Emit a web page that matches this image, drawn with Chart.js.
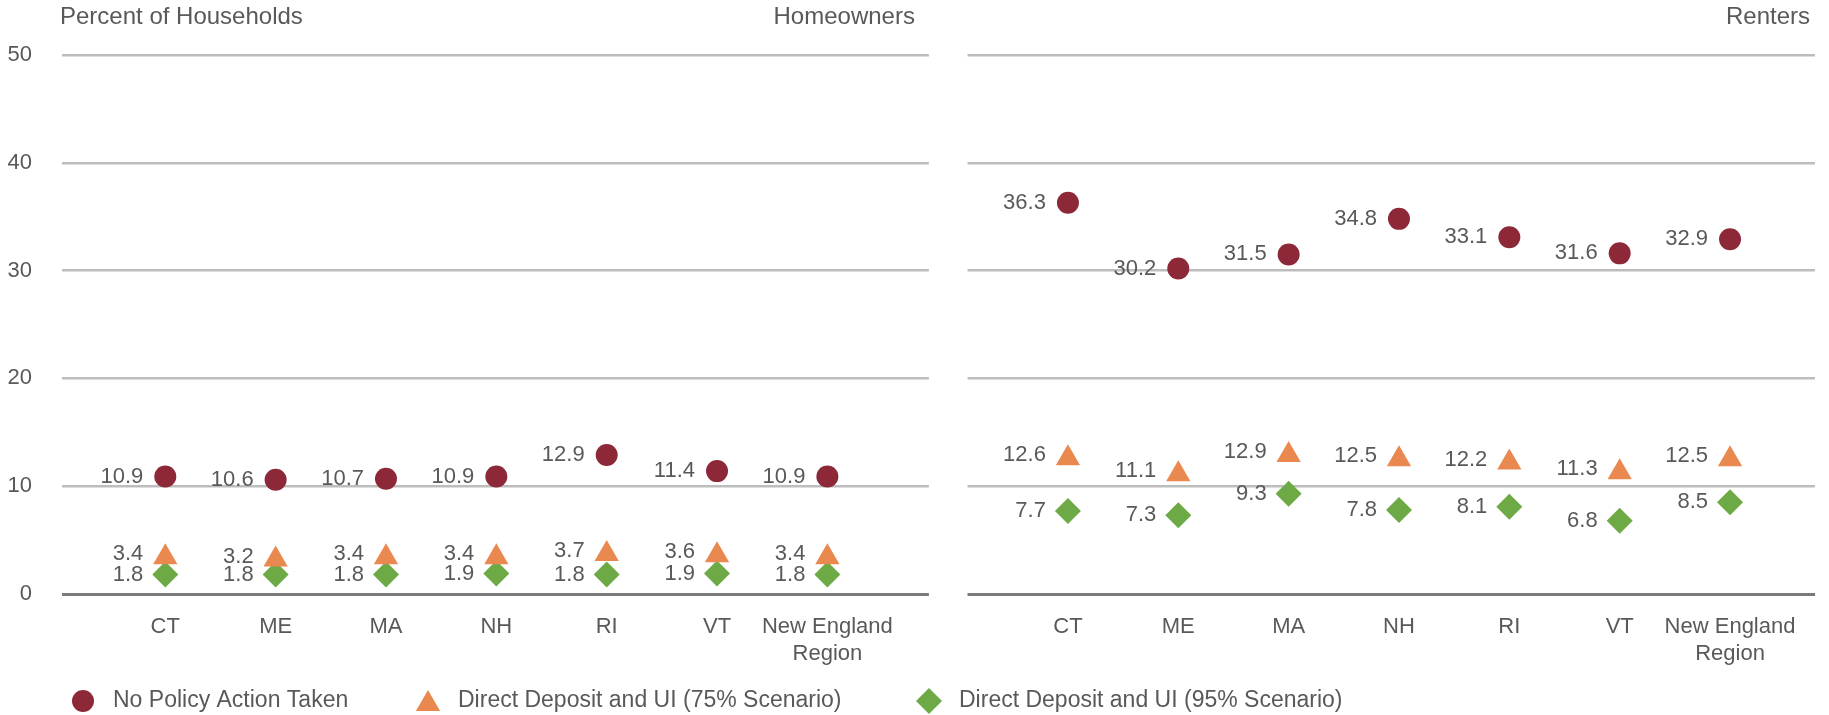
<html>
<head>
    <title>Households behind on housing payments</title>
    <style>
        body {
            margin: 0;
            background: #ffffff;
        }
    </style>
</head>
<body>

<script src="https://cdn.jsdelivr.net/npm/chart.js@4.4.1/dist/chart.umd.min.js"></script>

<canvas id="households" width="1829" height="715"></canvas>

<script>
    const categories = ['CT', 'ME', 'MA', 'NH', 'RI', 'VT', ['New England', 'Region']];
    const seriesNames = ['No Policy Action Taken', 'Direct Deposit and UI (75% Scenario)', 'Direct Deposit and UI (95% Scenario)'];

    const owners_no_action = [10.9, 10.6, 10.7, 10.9, 12.9, 11.4, 10.9];
    const owners_dd75 = [3.4, 3.2, 3.4, 3.4, 3.7, 3.6, 3.4];
    const owners_dd95 = [1.8, 1.8, 1.8, 1.9, 1.8, 1.9, 1.8];

    const renters_no_action = [36.3, 30.2, 31.5, 34.8, 33.1, 31.6, 32.9];
    const renters_dd75 = [12.6, 11.1, 12.9, 12.5, 12.2, 11.3, 12.5];
    const renters_dd95 = [7.7, 7.3, 9.3, 7.8, 8.1, 6.8, 8.5];

    const yTicks = [0, 10, 20, 30, 40, 50];

    // both panels share one linear x axis; renters sit further right
    const RENTERS_SHIFT = 8.18;
    const GAP_FROM = 6.92, GAP_TO = 7.27;

    const colors = ['#8c2838', '#e9894f', '#6daa45'];
    const shapes = ['circle', 'triangle', 'rectRot'];
    const radii = [11, 14, 13];
    const TEXT = '#595959';
    const FONT = "'Liberation Sans', Arial, sans-serif";

    Chart.defaults.font.family = FONT;
    Chart.defaults.font.size = 22;
    Chart.defaults.color = TEXT;

    function points(values, shift) {
        return values.map((v, i) => ({x: i + shift, y: v}));
    }

    function series(k, values, shift) {
        return {
            label: seriesNames[k],
            data: points(values, shift),
            pointStyle: shapes[k],
            pointRadius: radii[k],
            pointHoverRadius: radii[k],
            backgroundColor: colors[k],
            borderColor: colors[k],
            borderWidth: 0,
            showLine: false
        };
    }

    const tickPositions = categories.map((c, i) => i)
        .concat(categories.map((c, i) => i + RENTERS_SHIFT));

    // white break in the grid between the two panels
    const panelGap = {
        id: 'panelGap',
        beforeDatasetsDraw(chart) {
            const x = chart.scales.x, a = chart.chartArea, ctx = chart.ctx;
            const x0 = x.getPixelForValue(GAP_FROM), x1 = x.getPixelForValue(GAP_TO);
            ctx.save();
            ctx.fillStyle = '#ffffff';
            ctx.fillRect(x0, a.top - 5, x1 - x0, a.bottom - a.top + 10);
            ctx.restore();
        }
    };

    // value printed to the left of each marker
    const valueLabels = {
        id: 'valueLabels',
        afterDatasetsDraw(chart) {
            const ctx = chart.ctx;
            ctx.save();
            ctx.font = '22px ' + FONT;
            ctx.fillStyle = TEXT;
            ctx.textAlign = 'right';
            ctx.textBaseline = 'middle';
            chart.data.datasets.forEach((ds, d) => {
                const meta = chart.getDatasetMeta(d);
                const lift = ds.pointStyle === 'triangle' ? 3 : 0;
                meta.data.forEach((el, i) => {
                    ctx.fillText(ds.data[i].y.toFixed(1), el.x - 22, el.y - lift);
                });
            });
            ctx.restore();
        }
    };

    // panel headings and the marker legend along the bottom
    const headings = {
        id: 'headings',
        afterDraw(chart) {
            const ctx = chart.ctx, a = chart.chartArea;
            const gapLeft = chart.scales.x.getPixelForValue(GAP_FROM);
            ctx.save();
            ctx.font = '24px ' + FONT;
            ctx.fillStyle = TEXT;
            ctx.textBaseline = 'alphabetic';
            ctx.textAlign = 'left';
            ctx.fillText('Percent of Households', a.left - 2, 24);
            ctx.textAlign = 'right';
            ctx.fillText('Homeowners', gapLeft - 14, 24);
            ctx.fillText('Renters', a.right - 5, 24);

            const legendX = [83, 428, 929];
            const legendY = 701;
            ctx.font = '23px ' + FONT;
            ctx.textAlign = 'left';
            ctx.textBaseline = 'middle';
            for (let k = 0; k < 3; k++) {
                ctx.fillStyle = colors[k];
                Chart.helpers.drawPoint(ctx, {
                    pointStyle: shapes[k],
                    radius: radii[k],
                    rotation: 0,
                    borderWidth: 0
                }, legendX[k], legendY + (shapes[k] === 'triangle' ? 3 : 0));
                ctx.fillStyle = TEXT;
                ctx.fillText(seriesNames[k], legendX[k] + 30, legendY);
            }
            ctx.restore();
        }
    };

    const chart = new Chart(document.getElementById('households'), {
        type: 'scatter',
        data: {
            datasets: [
                series(0, owners_no_action, 0),
                series(1, owners_dd75, 0),
                series(2, owners_dd95, 0),
                series(0, renters_no_action, RENTERS_SHIFT),
                series(1, renters_dd75, RENTERS_SHIFT),
                series(2, renters_dd95, RENTERS_SHIFT)
            ]
        },
        options: {
            responsive: false,
            animation: false,
            layout: {
                padding: {top: 55, left: 8, right: 2, bottom: 0}
            },
            plugins: {
                legend: {display: false},
                tooltip: {enabled: false}
            },
            scales: {
                x: {
                    type: 'linear',
                    min: -0.936,
                    max: 14.95,
                    grid: {display: false},
                    border: {display: false},
                    afterBuildTicks: (axis) => {
                        axis.ticks = tickPositions.map(v => ({value: v}));
                    },
                    afterFit: (scale) => {
                        scale.height = 121;
                    },
                    ticks: {
                        autoSkip: false,
                        maxRotation: 0,
                        padding: 12,
                        callback: (value, index) => categories[index % categories.length]
                    }
                },
                y: {
                    min: yTicks[0],
                    max: yTicks[yTicks.length - 1],
                    afterBuildTicks: (axis) => {
                        axis.ticks = yTicks.map(v => ({value: v}));
                    },
                    afterFit: (scale) => {
                        scale.width = 54;
                    },
                    border: {display: false},
                    grid: {
                        drawTicks: false,
                        color: (c) => c.tick && c.tick.value === 0 ? '#7a7a7a' : '#bdbdbd',
                        lineWidth: (c) => c.tick && c.tick.value === 0 ? 3 : 2.5
                    },
                    ticks: {
                        padding: 30,
                        crossAlign: 'near'
                    }
                }
            }
        },
        plugins: [panelGap, valueLabels, headings]
    });
</script>

</body>
</html>
